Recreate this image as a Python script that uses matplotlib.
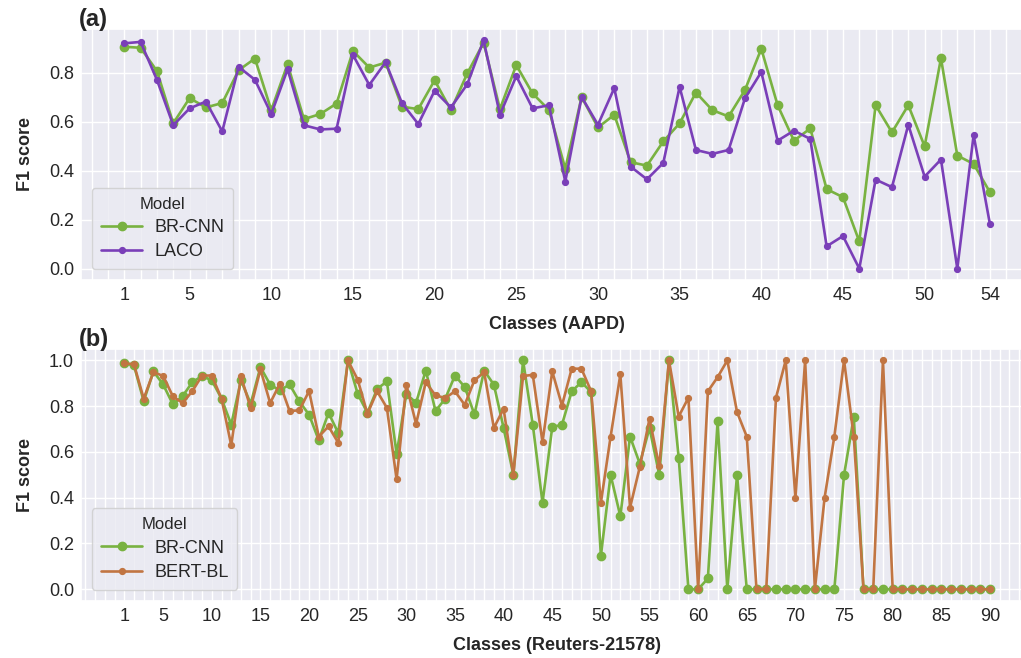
import numpy as np
import matplotlib
matplotlib.use("Agg")
import matplotlib.pyplot as plt
from matplotlib.ticker import MultipleLocator
import seaborn as sns

# Per-class F1 scores on AAPD (54 labels)
aapd_classes = np.arange(1, 55)
aapd_brcnn = [0.907, 0.903, 0.808, 0.594, 0.697, 0.659, 0.677, 0.811, 0.859, 0.648,
              0.836, 0.611, 0.632, 0.675, 0.890, 0.822, 0.842, 0.662, 0.652, 0.770,
              0.648, 0.798, 0.924, 0.652, 0.832, 0.716, 0.649, 0.408, 0.702, 0.577,
              0.629, 0.435, 0.421, 0.520, 0.594, 0.720, 0.648, 0.622, 0.730, 0.899,
              0.668, 0.523, 0.573, 0.325, 0.292, 0.111, 0.668, 0.557, 0.668, 0.500,
              0.860, 0.462, 0.428, 0.312]
aapd_laco = [0.921, 0.927, 0.772, 0.586, 0.655, 0.683, 0.561, 0.825, 0.772, 0.632,
             0.815, 0.586, 0.569, 0.572, 0.874, 0.751, 0.844, 0.677, 0.591, 0.727,
             0.659, 0.754, 0.933, 0.629, 0.787, 0.655, 0.668, 0.356, 0.702, 0.588,
             0.738, 0.417, 0.365, 0.432, 0.743, 0.485, 0.469, 0.485, 0.696, 0.804,
             0.523, 0.564, 0.530, 0.091, 0.133, 0.0, 0.364, 0.333, 0.588, 0.376,
             0.446, 0.0, 0.546, 0.181]
aapd_ticks = [1, 5, 10, 15, 20, 25, 30, 35, 40, 45, 50, 54]

# Per-class F1 scores on Reuters-21578 (90 labels)
reuters_classes = np.arange(1, 91)
reuters_brcnn = [0.988, 0.978, 0.822, 0.952, 0.895, 0.808, 0.844, 0.905, 0.932, 0.913,
                 0.833, 0.720, 0.913, 0.811, 0.971, 0.894, 0.869, 0.895, 0.821, 0.763,
                 0.651, 0.771, 0.683, 1.0, 0.854, 0.771, 0.876, 0.908, 0.592, 0.854,
                 0.815, 0.956, 0.779, 0.833, 0.934, 0.884, 0.764, 0.956, 0.894, 0.705,
                 0.5, 1.0, 0.719, 0.378, 0.709, 0.719, 0.865, 0.905, 0.862, 0.146,
                 0.5, 0.319, 0.667, 0.549, 0.705, 0.5, 1.0, 0.575, 0.0, 0.0,
                 0.047, 0.734, 0.0, 0.5, 0.0, 0.0, 0.0, 0.0, 0.0, 0.0,
                 0.0, 0.0, 0.0, 0.0, 0.5, 0.753, 0.0, 0.0, 0.0, 0.0,
                 0.0, 0.0, 0.0, 0.0, 0.0, 0.0, 0.0, 0.0, 0.0, 0.0]
reuters_bert = [0.988, 0.983, 0.833, 0.949, 0.932, 0.843, 0.814, 0.866, 0.934, 0.934,
                0.833, 0.629, 0.930, 0.792, 0.961, 0.814, 0.898, 0.779, 0.782, 0.866,
                0.667, 0.712, 0.640, 1.0, 0.916, 0.767, 0.865, 0.793, 0.480, 0.894,
                0.723, 0.905, 0.847, 0.836, 0.865, 0.806, 0.913, 0.949, 0.705, 0.789,
                0.5, 0.932, 0.937, 0.643, 0.952, 0.803, 0.964, 0.964, 0.865, 0.378,
                0.667, 0.939, 0.357, 0.534, 0.745, 0.537, 1.0, 0.755, 0.837, 0.0,
                0.865, 0.927, 1.0, 0.774, 0.667, 0.0, 0.0, 0.837, 1.0, 0.4,
                1.0, 0.0, 0.4, 0.667, 1.0, 0.667, 0.0, 0.0, 1.0, 0.0,
                0.0, 0.0, 0.0, 0.0, 0.0, 0.0, 0.0, 0.0, 0.0, 0.0]
reuters_ticks = [1, 5, 10, 15, 20, 25, 30, 35, 40, 45, 50, 55, 60, 65, 70, 75, 80, 85, 90]

GREEN = "#79b241"
PURPLE = "#7a3fb8"
ORANGE = "#c17542"

sns.set_theme(style="darkgrid")
plt.rcParams["font.family"] = ["Liberation Sans", "DejaVu Sans"]

fig = plt.figure(figsize=(10.21, 6.58), dpi=100)
ax_a = fig.add_axes([0.0793, 0.5745, 0.9327, 0.3814])
ax_b = fig.add_axes([0.0793, 0.0871, 0.9327, 0.3825])


def draw_panel(ax, x, series, ticks, xlabel, tag):
    for values, label, color, ms in series:
        ax.plot(x, values, color=color, lw=1.9, marker="o", ms=ms,
                label=label)
    ax.set_xticks(ticks)
    ax.xaxis.set_minor_locator(MultipleLocator(1))
    ax.grid(True, which="both", axis="x", color="white", lw=1.0)
    ax.grid(True, which="major", axis="y", color="white", lw=1.0)
    ax.tick_params(axis="both", which="both", length=0, labelsize=13,
                   labelcolor="#262626", pad=5)
    ax.set_xlabel(xlabel, fontsize=13, fontweight="bold", labelpad=9)
    ax.set_ylabel("F1 score", fontsize=13, fontweight="bold", labelpad=11)
    ax.set_title(tag, loc="left", fontsize=17, fontweight="bold", pad=2,
                 x=-0.002)
    leg = ax.legend(title="Model", loc="lower left", fontsize=13,
                    title_fontsize=12, frameon=True, handlelength=2.3,
                    handletextpad=0.65, borderpad=0.5, labelspacing=0.4,
                    borderaxespad=0.6)
    leg.get_frame().set_alpha(0.8)


draw_panel(ax_a, aapd_classes,
           [(aapd_brcnn, "BR-CNN", GREEN, 6), (aapd_laco, "LACO", PURPLE, 4.2)],
           aapd_ticks, "Classes (AAPD)", "(a)")
ax_a.set_yticks([0.0, 0.2, 0.4, 0.6, 0.8])

draw_panel(ax_b, reuters_classes,
           [(reuters_brcnn, "BR-CNN", GREEN, 6), (reuters_bert, "BERT-BL", ORANGE, 4.2)],
           reuters_ticks, "Classes (Reuters-21578)", "(b)")
ax_b.set_yticks([0.0, 0.2, 0.4, 0.6, 0.8, 1.0])

fig.savefig("out.png", dpi=100)
